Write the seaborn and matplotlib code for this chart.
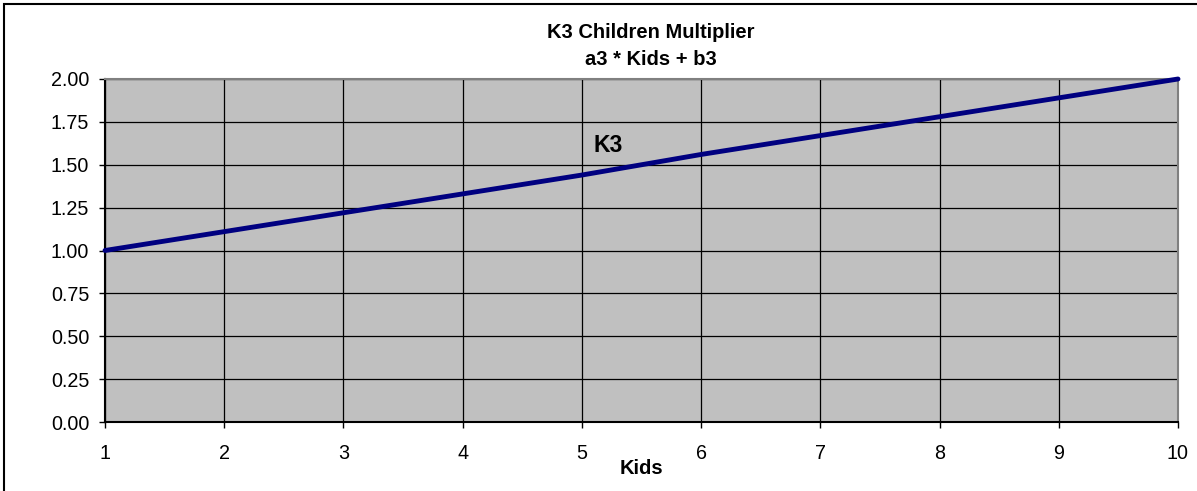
import matplotlib
matplotlib.use("Agg")
import matplotlib.pyplot as plt
import seaborn as sns
import pandas as pd
from matplotlib.patches import Rectangle

kids = [1, 2, 3, 4, 5, 6, 7, 8, 9, 10]
k3_values = [1.00, 1.11, 1.22, 1.33, 1.44, 1.56, 1.67, 1.78, 1.89, 2.00]
y_ticks = [0.00, 0.25, 0.50, 0.75, 1.00, 1.25, 1.50, 1.75, 2.00]
title_line1 = "K3 Children Multiplier"
title_line2 = "a3 * Kids + b3"
x_label = "Kids"
series_label = "K3"

df = pd.DataFrame({"Kids": kids, "K3": k3_values})

sns.set_style("white")
plt.rcParams["font.family"] = ["Liberation Sans", "DejaVu Sans"]
plt.rcParams["text.color"] = "black"
plt.rcParams["axes.labelcolor"] = "black"
plt.rcParams["xtick.color"] = "black"
plt.rcParams["ytick.color"] = "black"

W, H = 1197, 491
fig = plt.figure(figsize=(W / 100, H / 100), dpi=100)
ax = fig.add_axes([105 / W, 1 - 422 / H, (1178 - 105) / W, (422 - 79) / H])
ax.set_facecolor("#C0C0C0")

sns.lineplot(data=df, x="Kids", y="K3", ax=ax, color="#000080", linewidth=3.5,
             clip_on=False, zorder=5)

ax.set_xlim(1, 10)
ax.set_ylim(0, 2)
ax.set_xticks(kids)
ax.set_xticklabels([str(k) for k in kids], fontsize=14.2)
ax.set_yticks(y_ticks)
ax.set_yticklabels([f"{v:.2f}" for v in y_ticks], fontsize=14.2)
ax.grid(True, color="black", linewidth=0.9)
ax.set_axisbelow(True)
for s in ax.spines.values():
    s.set_visible(True)
    s.set_color("#808080")
    s.set_linewidth(1.5)
ax.spines["left"].set_color("black")
ax.spines["bottom"].set_color("black")
ax.tick_params(axis="both", direction="out", length=4.3, width=1, color="black",
               left=True, bottom=True, labelcolor="black")
ax.tick_params(axis="x", pad=11.5)
ax.tick_params(axis="y", pad=7)
ax.set_xlabel(x_label, fontsize=14.5, fontweight="bold", labelpad=-2.5, color="black")
ax.set_ylabel("")

ax.text(5.10, 1.615, series_label, fontsize=16.5, fontweight="bold", va="center",
        ha="left", color="black")

fig.text(651 / W, 1 - 32 / H, title_line1, ha="center", va="center",
         fontsize=14.5, fontweight="bold", color="black")
fig.text(651 / W, 1 - 60 / H, title_line2, ha="center", va="center",
         fontsize=14.5, fontweight="bold", color="black")

fig.patches.append(Rectangle((4 / W, -0.05), 1.2, 1 - 4 / H + 0.05, transform=fig.transFigure,
                             fill=False, edgecolor="black", linewidth=1.5))

fig.savefig("out.png", dpi=100)
